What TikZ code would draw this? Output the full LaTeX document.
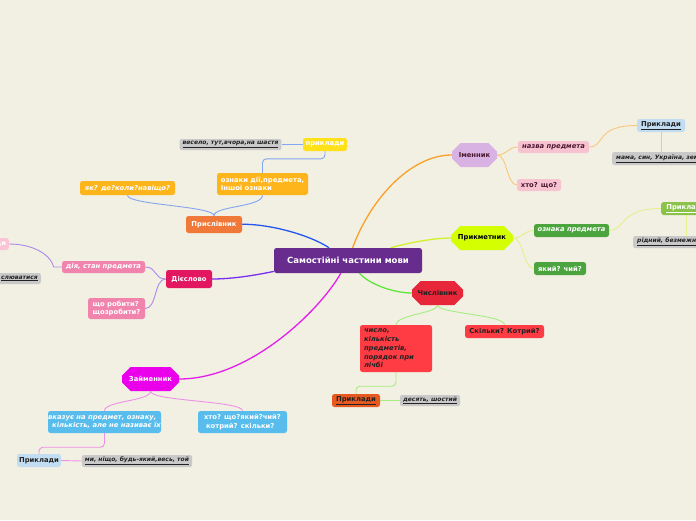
\documentclass[tikz,border=0pt]{standalone}
\usepackage{fontspec}
\setmainfont{DejaVu Sans}
\usetikzlibrary{shapes.misc}
\pgfdeclarelayer{bg}
\pgfsetlayers{bg,main}
\definecolor{bgc}{HTML}{F2EFE3}
\definecolor{cPurple}{HTML}{682C8F}
\definecolor{cPris}{HTML}{F07838}
\definecolor{cAmber}{HTML}{FDB51B}
\definecolor{cYellow}{HTML}{FFE11A}
\definecolor{cGrey}{HTML}{C9C9C9}
\definecolor{cVerb}{HTML}{E2175F}
\definecolor{cVerbL}{HTML}{F184AC}
\definecolor{cPinkL}{HTML}{FBC3D3}
\definecolor{cNoun}{HTML}{D7B2E2}
\definecolor{cNounL}{HTML}{F8C3D0}
\definecolor{cBlueL}{HTML}{C2DDF2}
\definecolor{cAdj}{HTML}{D3FF00}
\definecolor{cGreen}{HTML}{4CA43E}
\definecolor{cGreenL}{HTML}{8BC34A}
\definecolor{cNum}{HTML}{E8263A}
\definecolor{cNumL}{HTML}{FF3B44}
\definecolor{cOrange}{HTML}{E65A22}
\definecolor{cPron}{HTML}{EA00EA}
\definecolor{cSky}{HTML}{58BDEC}
\definecolor{cDark}{HTML}{222222}
\definecolor{cMaroon}{HTML}{4A1830}
% connector colours
\definecolor{lPris}{HTML}{2457F0}
\definecolor{lPrisL}{HTML}{82A6F2}
\definecolor{lVerb}{HTML}{7A2EF0}
\definecolor{lVerbL}{HTML}{A98BE9}
\definecolor{lNoun}{HTML}{F8A128}
\definecolor{lNounL}{HTML}{F9C77C}
\definecolor{lAdj}{HTML}{CFF22A}
\definecolor{lAdjL}{HTML}{E3F18A}
\definecolor{lNum}{HTML}{5FE63A}
\definecolor{lNumL}{HTML}{A6EE80}
\definecolor{lPron}{HTML}{E51EEB}
\definecolor{lPronL}{HTML}{EE90E8}
\newcommand\lbl{\fontsize{6.8}{8.8}\selectfont\bfseries}
\newcommand\gry{\fontsize{6.0}{7.5}\selectfont\bfseries\itshape}
\newcommand\ttl{\fontsize{8.5}{10}\selectfont\bfseries}
\begin{document}
\begin{tikzpicture}[x=1pt,y=-1pt,
  box/.style={rectangle, rounded corners=2.5pt, inner sep=0pt, font=\lbl, align=center},
  hexa/.style={chamfered rectangle, chamfered rectangle xsep=8pt, chamfered rectangle ysep=6pt, inner sep=0pt, font=\lbl, minimum height=24pt},
  greybox/.style={rectangle, rounded corners=2pt, inner ysep=0pt, inner xsep=3pt, fill=cGrey, text=cDark, font=\gry},
  mainl/.style={line width=1.3pt},
  subl/.style={line width=0.9pt},
  stepl/.style={line width=0.9pt, rounded corners=4pt}]
\path[use as bounding box] (0,0) rectangle (696,520);

% central node
\node[box, fill=cPurple, text=white, font=\ttl, minimum width=148pt, minimum height=25pt] (c) at (348,260.5) {Самостійні частини мови};

% Прислівник
\node[box, fill=cPris, text=white, minimum width=56pt, minimum height=17pt] (pris) at (214,224.5) {Прислівник};
\node[box, fill=cAmber, text=white, minimum width=91pt, minimum height=22pt, align=left] (ozn) at (262.5,184) {ознаки дії,предмета,\\ Іншої ознаки};
\node[box, fill=cYellow, text=white, minimum width=44pt, minimum height=13pt] (pr1) at (325,144.5) {приклади};
\node[greybox, minimum width=101pt, minimum height=11pt] (ex1) at (230.5,144.5) {\underline{весело, тут,вчора,на шастя}};
\node[box, fill=cAmber, text=white, font=\lbl\itshape, minimum width=95pt, minimum height=14pt] (yak) at (127.5,188) {як? де?коли?навіщо?};

% Дієслово
\node[box, fill=cVerb, text=white, minimum width=46pt, minimum height=18pt] (d) at (189,279) {Дієслово};
\node[box, fill=cVerbL, text=white, font=\lbl\itshape, minimum width=83pt, minimum height=12pt] (dia) at (103.5,267) {дія, стан предмета};
\node[box, fill=cVerbL, text=white, minimum width=57pt, minimum height=21pt, align=left] (shcho) at (116.5,308.5) {що робити?\\щозробити?};
\node[box, fill=cPinkL, text=white, minimum width=44pt, minimum height=12pt, anchor=east] (pinkp) at (9,244) {приклади};
\node[greybox, minimum height=11pt, text width=55pt, align=right, anchor=east] (ex2) at (41,278.5) {\underline{слюватися}};

% Іменник
\node[hexa, fill=cNoun, text=cMaroon, minimum width=45pt] (im) at (474.5,155) {Іменник};
\node[box, fill=cNounL, text=cMaroon, font=\lbl\itshape, minimum width=71pt, minimum height=12pt] (naz) at (553.5,147) {назва предмета};
\node[box, fill=cNounL, text=cMaroon, minimum width=44pt, minimum height=12pt] (xto) at (539,185) {хто? що?};
\node[box, fill=cBlueL, text=cDark, minimum width=48pt, minimum height=13pt] (pn) at (661,125.5) {\underline{Приклади}};
\node[greybox, minimum height=13pt, anchor=west, inner xsep=4pt, align=left] (exn) at (612,158.5) {\underline{мама, син, Україна, земля}};

% Прикметник
\node[hexa, fill=cAdj, text=black, minimum width=62pt] (adj) at (482,238) {Прикметник};
\node[box, fill=cGreen, text=white, font=\lbl\itshape, minimum width=75pt, minimum height=13pt] (ozn2) at (571.5,230.5) {ознака предмета};
\node[box, fill=cGreen, text=white, minimum width=52pt, minimum height=13pt] (yakyi) at (560,268.5) {який? чий?};
\node[box, fill=cGreenL, text=white, minimum width=50pt, minimum height=13pt, anchor=west] (pa) at (661,208.5) {\underline{Приклади}};
\node[greybox, minimum height=12pt, anchor=west, inner xsep=4pt, align=left] (exa) at (633,242) {\underline{рідний, безмежний}};

% Числівник
\node[hexa, fill=cNum, text=cDark, minimum width=51pt] (num) at (437.5,293) {Числівник};
\node[box, fill=cNumL, text=cDark, font=\lbl\itshape, minimum width=72pt, minimum height=47pt, text width=64pt, align=left] (chyslo) at (396,348.5) {число,\\кількість\\предметів,\\порядок при\\лічбі};
\node[box, fill=cNumL, text=cDark, minimum width=79pt, minimum height=13pt] (skilky) at (504.5,331.5) {Скільки? Котрий?};
\node[box, fill=cOrange, text=cDark, minimum width=48pt, minimum height=13pt] (pn2) at (356,400.5) {\underline{Приклади}};
\node[greybox, minimum width=60pt, minimum height=11pt] (exnum) at (430,400.5) {\underline{десять, шостий}};

% Займенник
\node[hexa, fill=cPron, text=white, minimum width=57pt] (zm) at (150.5,379) {Займенник};
\node[box, fill=cSky, text=white, font=\lbl\itshape, minimum width=113pt, minimum height=22pt, align=left] (vk) at (104.5,422) {вказує на предмет, ознаку,\\\hspace*{4pt}кількість, але не називає їх};
\node[box, fill=cSky, text=white, minimum width=89pt, minimum height=22pt, align=left] (xto2) at (242.5,422) {хто? що?який?чий?\\\hspace*{2pt}котрий? скільки?};
\node[box, fill=cBlueL, text=cDark, minimum width=44pt, minimum height=13pt] (pz) at (39,460.5) {Приклади};
\node[greybox, minimum width=110pt, minimum height=12pt] (expr) at (137,461) {\underline{ми, ніщо, будь-який,весь, той}};

\begin{pgfonlayer}{bg}
\fill[bgc] (0,0) rectangle (696,520);
% main branches
\draw[mainl, lPris] (c) .. controls (310,235) and (270,224) .. (pris);
\draw[mainl, lVerb] (c) .. controls (270,272) and (240,279) .. (d);
\draw[mainl, lPron] (c) .. controls (320,310) and (250,379) .. (zm);
\draw[mainl, lNoun] (c) .. controls (370,200) and (410,155) .. (im);
\draw[mainl, lAdj] (c) .. controls (400,245) and (430,238) .. (adj);
\draw[mainl, lNum] (c) .. controls (370,285) and (395,293) .. (num);
% Прислівник
\draw[subl, lPrisL] (pris.north) .. controls +(0,-10) and +(0,12) .. (ozn.south);
\draw[subl, lPrisL] (pris.north) .. controls +(0,-10) and +(0,10) .. (yak.south);
\draw[stepl, lPrisL] (ozn.north) -- ++(0,-14) -| (pr1.south);
\draw[subl, lPrisL] (pr1.west) -- (ex1.east);
% Дієслово
\draw[subl, lVerbL] (d.west) .. controls +(-12,0) and +(12,0) .. (dia.east);
\draw[subl, lVerbL] (d.west) .. controls +(-12,0) and +(12,0) .. (shcho.east);
\draw[subl, lVerbL] (dia.west) -- ++(-8,0) .. controls +(-4,-14) and +(22,0) .. (pinkp.east);
% Іменник
\draw[subl, lNounL] (im.east) .. controls +(10,0) and +(-10,0) .. (naz.west);
\draw[subl, lNounL] (im.east) .. controls +(10,0) and +(-10,0) .. (xto.west);
\draw[subl, lNounL] (naz.east) .. controls +(16,0) and +(-42,0) .. (pn.west);
\draw[subl, lNounL] (pn.south) -- (pn.south |- exn.north);
% Прикметник
\draw[subl, lAdjL] (adj.east) .. controls +(10,0) and +(-10,0) .. (ozn2.west);
\draw[subl, lAdjL] (adj.east) .. controls +(10,0) and +(-10,0) .. (yakyi.west);
\draw[subl, lAdjL] (ozn2.east) .. controls +(16,0) and +(-42,0) .. (pa.west);
\draw[subl, lAdjL] (pa.south) -- (pa.south |- exa.north);
% Числівник
\draw[subl, lNumL] (num.south) .. controls +(0,8) and +(0,-10) .. (chyslo.north);
\draw[subl, lNumL] (num.south) .. controls +(0,8) and +(0,-10) .. (skilky.north);
\draw[stepl, lNumL] (chyslo.south) -- ++(0,14) -| (pn2.north);
\draw[subl, lNumL] (pn2.east) -- (exnum.west);
% Займенник
\draw[subl, lPronL] (zm.south) .. controls +(0,10) and +(0,-10) .. (vk.north);
\draw[subl, lPronL] (zm.south) .. controls +(0,10) and +(0,-10) .. (xto2.north);
\draw[stepl, lPronL] (vk.south) -- ++(0,14) -| (pz.north);
\draw[subl, lPronL] (pz.east) -- (expr.west);
\end{pgfonlayer}
\end{tikzpicture}
\end{document}
